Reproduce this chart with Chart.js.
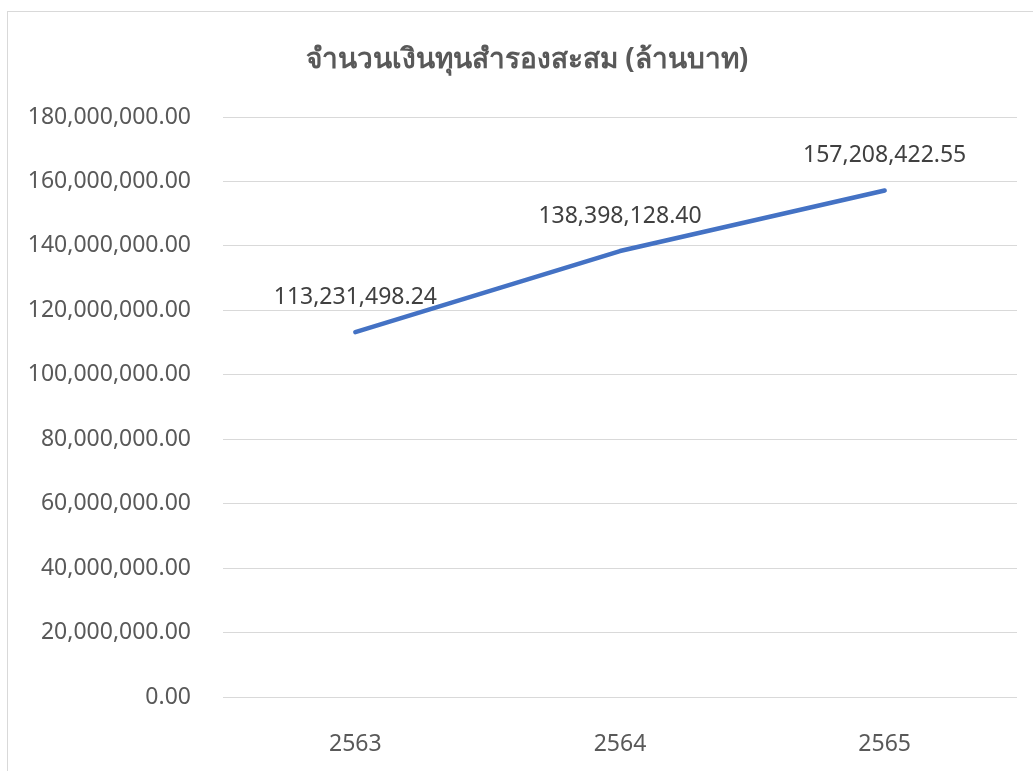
<!DOCTYPE html>
<html>
<head>
<meta charset="utf-8">
<script src="https://cdn.jsdelivr.net/npm/chart.js@4"></script>
<style>
    html, body { margin: 0; padding: 0; background: #fff; overflow: hidden; }
    #wrap { position: relative; width: 1033px; height: 771px; }
    #frame { position: absolute; left: 7px; top: 11px; width: 1040px; height: 780px; border: 1px solid #d9d9d9; box-sizing: border-box; pointer-events: none; }
    canvas { position: absolute; left: 0; top: 0; }
</style>
</head>
<body>
<div id="wrap">
    <canvas id="chart" width="1033" height="771"></canvas>
    <div id="frame"></div>
</div>
<script>
// Data
const years = ['2563', '2564', '2565'];
const reserveFund = [113231498.24, 138398128.40, 157208422.55];
const chartTitle = 'จำนวนเงินทุนสำรองสะสม (ล้านบาท)';

const fontFamily = '"Noto Sans", "Open Sans", sans-serif';

const fmt = v => v.toLocaleString('en-US', { minimumFractionDigits: 2, maximumFractionDigits: 2 });

// Title centred on the whole chart frame, plus value labels above each point
const annotations = {
    id: 'annotations',
    afterDatasetsDraw(chart) {
        const ctx = chart.ctx;
        const meta = chart.getDatasetMeta(0);
        ctx.save();
        ctx.textAlign = 'center';
        ctx.textBaseline = 'middle';

        ctx.font = 'bold 28px ' + fontFamily;
        ctx.fillStyle = '#595959';
        ctx.fillText(chartTitle, 527, 60);

        ctx.font = '23px ' + fontFamily;
        ctx.fillStyle = '#404040';
        meta.data.forEach((pt, i) => {
            ctx.fillText(fmt(reserveFund[i]), pt.x, pt.y - 35);
        });
        ctx.restore();
    }
};

new Chart(document.getElementById('chart'), {
    type: 'line',
    data: {
        labels: years,
        datasets: [{
            data: reserveFund,
            borderColor: '#4472C4',
            borderWidth: 4.5,
            borderCapStyle: 'round',
            borderJoinStyle: 'round',
            pointRadius: 0,
            tension: 0,
            fill: false
        }]
    },
    options: {
        responsive: false,
        animation: false,
        layout: {
            padding: { top: 117, right: 16, bottom: 0, left: 0 }
        },
        plugins: {
            legend: { display: false },
            tooltip: { enabled: false },
            title: { display: false }
        },
        scales: {
            x: {
                offset: true,
                grid: { display: false, drawTicks: false },
                border: { display: false },
                afterFit(scale) { scale.height = 74; },
                ticks: {
                    color: '#595959',
                    font: { family: fontFamily, size: 23 },
                    padding: 34
                }
            },
            y: {
                min: 0,
                max: 180000000,
                grid: { color: '#d9d9d9', lineWidth: 1, drawTicks: false },
                border: { display: false },
                afterFit(scale) { scale.width = 223; },
                ticks: {
                    stepSize: 20000000,
                    color: '#595959',
                    font: { family: fontFamily, size: 23 },
                    padding: 32,
                    callback: v => fmt(v)
                }
            }
        }
    },
    plugins: [annotations]
});
</script>
</body>
</html>
